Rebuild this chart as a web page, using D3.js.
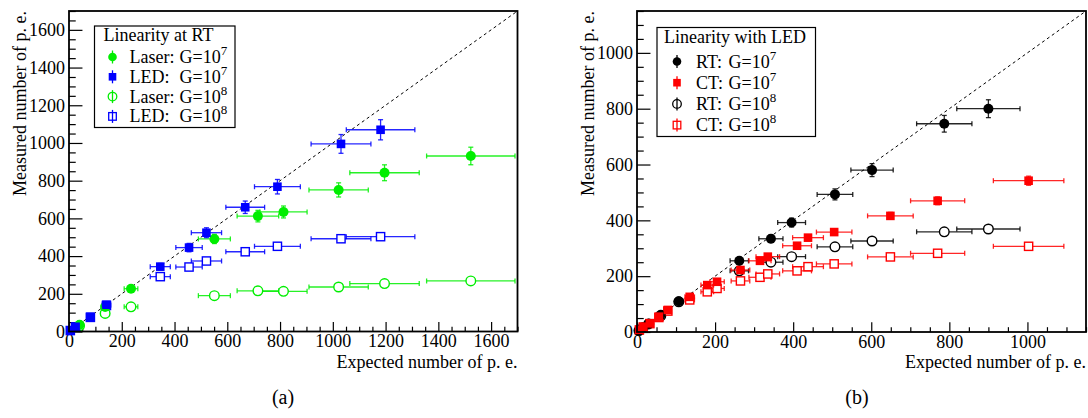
<!DOCTYPE html>
<html><head><meta charset="utf-8">
<script src="https://cdn.jsdelivr.net/npm/d3@7"></script>
<style>
body{margin:0;background:#fff}
svg{display:block}
svg text{font-family:"Liberation Serif","Times New Roman","DejaVu Serif",serif !important;fill:#000}
</style>
</head><body>
<svg id="c" width="1088" height="418" font-family="Liberation Serif, Times New Roman, serif"></svg>
<script>
// ---------- Panel (a): Linearity at RT ----------
const laserExpected   = [40, 137, 235, 551, 716, 813, 1022, 1196, 1523];
const laserMeasuredG7 = [36, 130, 227, 491, 612, 634, 751, 842, 931];
const laserMeasuredG8 = [30, 96, 131, 190, 216, 213, 236, 254, 268];
const ledExpectedA    = [5, 25, 81, 142, 346, 455, 521, 668, 790, 1031, 1181];
const ledMeasuredG7   = [5, 25, 78, 142, 344, 445, 524, 659, 768, 995, 1070];
const ledMeasuredG8   = [5, 24, 75, 138, 291, 342, 374, 423, 452, 492, 503];

// ---------- Panel (b): Linearity with LED ----------
const rtExpected   = [5, 15, 30, 61, 107, 262, 343, 396, 507, 602, 787, 900];
const rtMeasuredG7 = [5, 15, 30, 62, 110, 255, 334, 392, 493, 580, 746, 800];
const rtMeasuredG8 = [5, 15, 29, 58, 108, 219, 250, 270, 305, 326, 359, 369];
const ctExpected   = [6, 16, 33, 56, 79, 135, 180, 205, 265, 315, 335, 410, 438, 505, 649, 770, 1003];
const ctMeasuredG7 = [8, 19, 31, 55, 79, 126, 168, 180, 222, 255, 270, 309, 338, 358, 416, 470, 542];
const ctMeasuredG8 = [7, 17, 30, 52, 75, 115, 144, 156, 183, 196, 208, 219, 234, 244, 269, 282, 307];

// tick labels
const ticksA = [0, 200, 400, 600, 800, 1000, 1200, 1400, 1600];
const ticksB = [0, 200, 400, 600, 800, 1000];

const xTitle = "Expected number of p. e.";
const yTitle = "Measured number of p. e.";

const GREEN = "#00ee00", BLUE = "#0000ff", RED = "#ff0000", BLACK = "#000000";
const FONT = '"Liberation Serif", "Times New Roman", serif';

const svg = d3.select("#c");

function zip(xs, ys) { return xs.map((v, i) => ({x: v, y: ys[i]})); }

function txt(sel) { return sel.append("text").attr("font-family", FONT).attr("fill", "#000"); }

function drawPanel(cfg) {
  const g = svg.append("g");
  const x = d3.scaleLinear().domain([0, cfg.max]).range([cfg.left, cfg.right]);
  const y = d3.scaleLinear().domain([0, cfg.max]).range([cfg.bottom, cfg.top]);
  const fw = cfg.right - cfg.left, fh = cfg.bottom - cfg.top;
  const xTick = 0.03 * fh, yTick = 0.03 * fw;
  const minor = d3.range(0, cfg.max + 1, 50).filter(v => v % 200 !== 0);

  // axes
  const xa = g.append("g").attr("transform", `translate(0,${cfg.bottom})`)
    .call(d3.axisBottom(x).tickValues(cfg.ticks).tickFormat(d3.format("d"))
      .tickSizeInner(-xTick).tickSizeOuter(0).tickPadding(3));
  const xm = g.append("g").attr("transform", `translate(0,${cfg.bottom})`)
    .call(d3.axisBottom(x).tickValues(minor).tickFormat("").tickSizeInner(-xTick / 2).tickSizeOuter(0));
  const ya = g.append("g").attr("transform", `translate(${cfg.left},0)`)
    .call(d3.axisLeft(y).tickValues(cfg.ticks).tickFormat(d3.format("d"))
      .tickSizeInner(-yTick).tickSizeOuter(0).tickPadding(4));
  const ym = g.append("g").attr("transform", `translate(${cfg.left},0)`)
    .call(d3.axisLeft(y).tickValues(minor).tickFormat("").tickSizeInner(-yTick / 2).tickSizeOuter(0));
  [xa, xm, ya, ym].forEach(a => {
    a.attr("font-family", FONT).attr("font-size", 18);
    a.select(".domain").remove();
    a.selectAll("line").attr("stroke", "#000").attr("stroke-width", 1.2);
    a.selectAll("text").attr("font-size", 18).attr("font-family", FONT).attr("fill", "#000");
  });

  // diagonal y = x
  g.append("line")
    .attr("x1", x(0)).attr("y1", y(0)).attr("x2", x(cfg.max)).attr("y2", y(cfg.max))
    .attr("stroke", "#000").attr("stroke-width", 1).attr("stroke-dasharray", "3,3");

  // series
  cfg.series.forEach(s => {
    const pts = zip(s.xs, s.ys);
    const sg = g.append("g");
    pts.forEach(p => {
      const ex = p.x * s.ex, ey = p.y * s.ey;
      const cx = x(p.x), cy = y(p.y);
      const x0 = x(Math.max(0, p.x - ex)), x1 = x(Math.min(cfg.max, p.x + ex));
      const y0 = y(p.y - ey), y1 = y(p.y + ey);
      const st = {stroke: s.color, "stroke-width": 1.3, "stroke-opacity": 0.85};
      const ln = (a, b, c, d) => { const l = sg.append("line").attr("x1", a).attr("y1", b).attr("x2", c).attr("y2", d); Object.entries(st).forEach(([k, v]) => l.attr(k, v)); };
      ln(x0, cy, x1, cy);
      ln(x0, cy - 2.5, x0, cy + 2.5);
      ln(x1, cy - 2.5, x1, cy + 2.5);
      ln(cx, y0, cx, y1);
      ln(cx - 2.5, y0, cx + 2.5, y0);
      ln(cx - 2.5, y1, cx + 2.5, y1);
    });
    pts.forEach(p => {
      const cx = x(p.x), cy = y(p.y);
      let m;
      if (s.shape === "circle") {
        m = sg.append("circle").attr("cx", cx).attr("cy", cy).attr("r", s.filled ? 5 : 4.8);
      } else {
        const a = s.filled ? 8.6 : 8.2;
        m = sg.append("rect").attr("x", cx - a / 2).attr("y", cy - a / 2).attr("width", a).attr("height", a);
      }
      if (s.filled) m.attr("fill", s.color).attr("stroke", "none");
      else m.attr("fill", "#fff").attr("stroke", s.color).attr("stroke-width", 1.4);
    });
  });

  // frame
  g.append("rect").attr("x", cfg.left).attr("y", cfg.top).attr("width", fw).attr("height", fh)
    .attr("fill", "none").attr("stroke", "#000").attr("stroke-width", 1.8);

  // axis titles
  txt(g).attr("x", cfg.right).attr("y", cfg.bottom + 36).attr("text-anchor", "end")
    .attr("font-size", 18).text(xTitle);
  txt(g).attr("transform", `translate(${cfg.yTitleX},${cfg.top}) rotate(-90)`)
    .attr("text-anchor", "end").attr("font-size", 18).text(yTitle);

  // legend
  const L = cfg.legend;
  g.append("rect").attr("x", L.x).attr("y", L.y).attr("width", L.w).attr("height", L.h)
    .attr("fill", "#fff").attr("stroke", "#000").attr("stroke-width", 1.2);
  txt(g).attr("x", L.x + L.titleDx).attr("y", L.y + 15).attr("font-size", 18).text(L.title);
  cfg.series.slice().sort((a, b) => a.legendIdx - b.legendIdx).forEach((s, i) => {
    const cy = L.y + L.row0 + i * L.rowStep;
    const mx = L.x + L.markerDx;
    g.append("line").attr("x1", mx).attr("x2", mx).attr("y1", cy - 6.5).attr("y2", cy + 6.5)
      .attr("stroke", s.color).attr("stroke-width", 1.3);
    let m;
    if (s.shape === "circle") m = g.append("circle").attr("cx", mx).attr("cy", cy).attr("r", 4.3);
    else m = g.append("rect").attr("x", mx - 3.8).attr("y", cy - 3.8).attr("width", 7.6).attr("height", 7.6);
    if (s.filled) m.attr("fill", s.color);
    else m.attr("fill", "none").attr("stroke", s.color).attr("stroke-width", 1.3);
    const t = txt(g).attr("y", cy + 6).attr("font-size", 18);
    t.append("tspan").attr("x", L.x + L.textDx).text(s.label);
    t.append("tspan").attr("x", L.x + L.gDx).text("G=10");
    t.append("tspan").attr("dy", -8).attr("font-size", 13).text(s.exp);
  });

  // caption
  txt(svg).attr("x", cfg.capX).attr("y", 404).attr("text-anchor", "middle")
    .attr("font-size", 20).text(cfg.caption);
}

drawPanel({
  left: 69, right: 517.5, top: 11, bottom: 331.5, max: 1700, ticks: ticksA,
  yTitleX: 26, capX: 283, caption: "(a)",
  legend: {x: 94.5, y: 26, w: 140.5, h: 101.5, title: "Linearity at RT", titleDx: 9,
           row0: 31, rowStep: 19.8, markerDx: 18, textDx: 35, gDx: 85},
  series: [
    {xs: laserExpected, ys: laserMeasuredG8, ex: 0.11, ey: 0.03, color: GREEN, shape: "circle", filled: false, label: "Laser:", exp: "8", legendIdx: 2},
    {xs: ledExpectedA, ys: ledMeasuredG8, ex: 0.11, ey: 0.03, color: BLUE, shape: "square", filled: false, label: "LED:", exp: "8", legendIdx: 3},
    {xs: laserExpected, ys: laserMeasuredG7, ex: 0.11, ey: 0.05, color: GREEN, shape: "circle", filled: true, label: "Laser:", exp: "7", legendIdx: 0},
    {xs: ledExpectedA, ys: ledMeasuredG7, ex: 0.11, ey: 0.05, color: BLUE, shape: "square", filled: true, label: "LED:", exp: "7", legendIdx: 1}
  ]
});

drawPanel({
  left: 637, right: 1086, top: 11, bottom: 332, max: 1150, ticks: ticksB,
  yTitleX: 594, capX: 857, caption: "(b)",
  legend: {x: 657, y: 27.5, w: 158.5, h: 109, title: "Linearity with LED", titleDx: 7,
           row0: 34, rowStep: 21.2, markerDx: 20, textDx: 39, gDx: 71.5},
  series: [
    {xs: rtExpected, ys: rtMeasuredG8, ex: 0.09, ey: 0.03, color: BLACK, shape: "circle", filled: false, label: "RT:", exp: "8", legendIdx: 2},
    {xs: ctExpected, ys: ctMeasuredG8, ex: 0.09, ey: 0.03, color: RED, shape: "square", filled: false, label: "CT:", exp: "8", legendIdx: 3},
    {xs: rtExpected, ys: rtMeasuredG7, ex: 0.09, ey: 0.04, color: BLACK, shape: "circle", filled: true, label: "RT:", exp: "7", legendIdx: 0},
    {xs: ctExpected, ys: ctMeasuredG7, ex: 0.09, ey: 0.03, color: RED, shape: "square", filled: true, label: "CT:", exp: "7", legendIdx: 1}
  ]
});
</script>
</body></html>
